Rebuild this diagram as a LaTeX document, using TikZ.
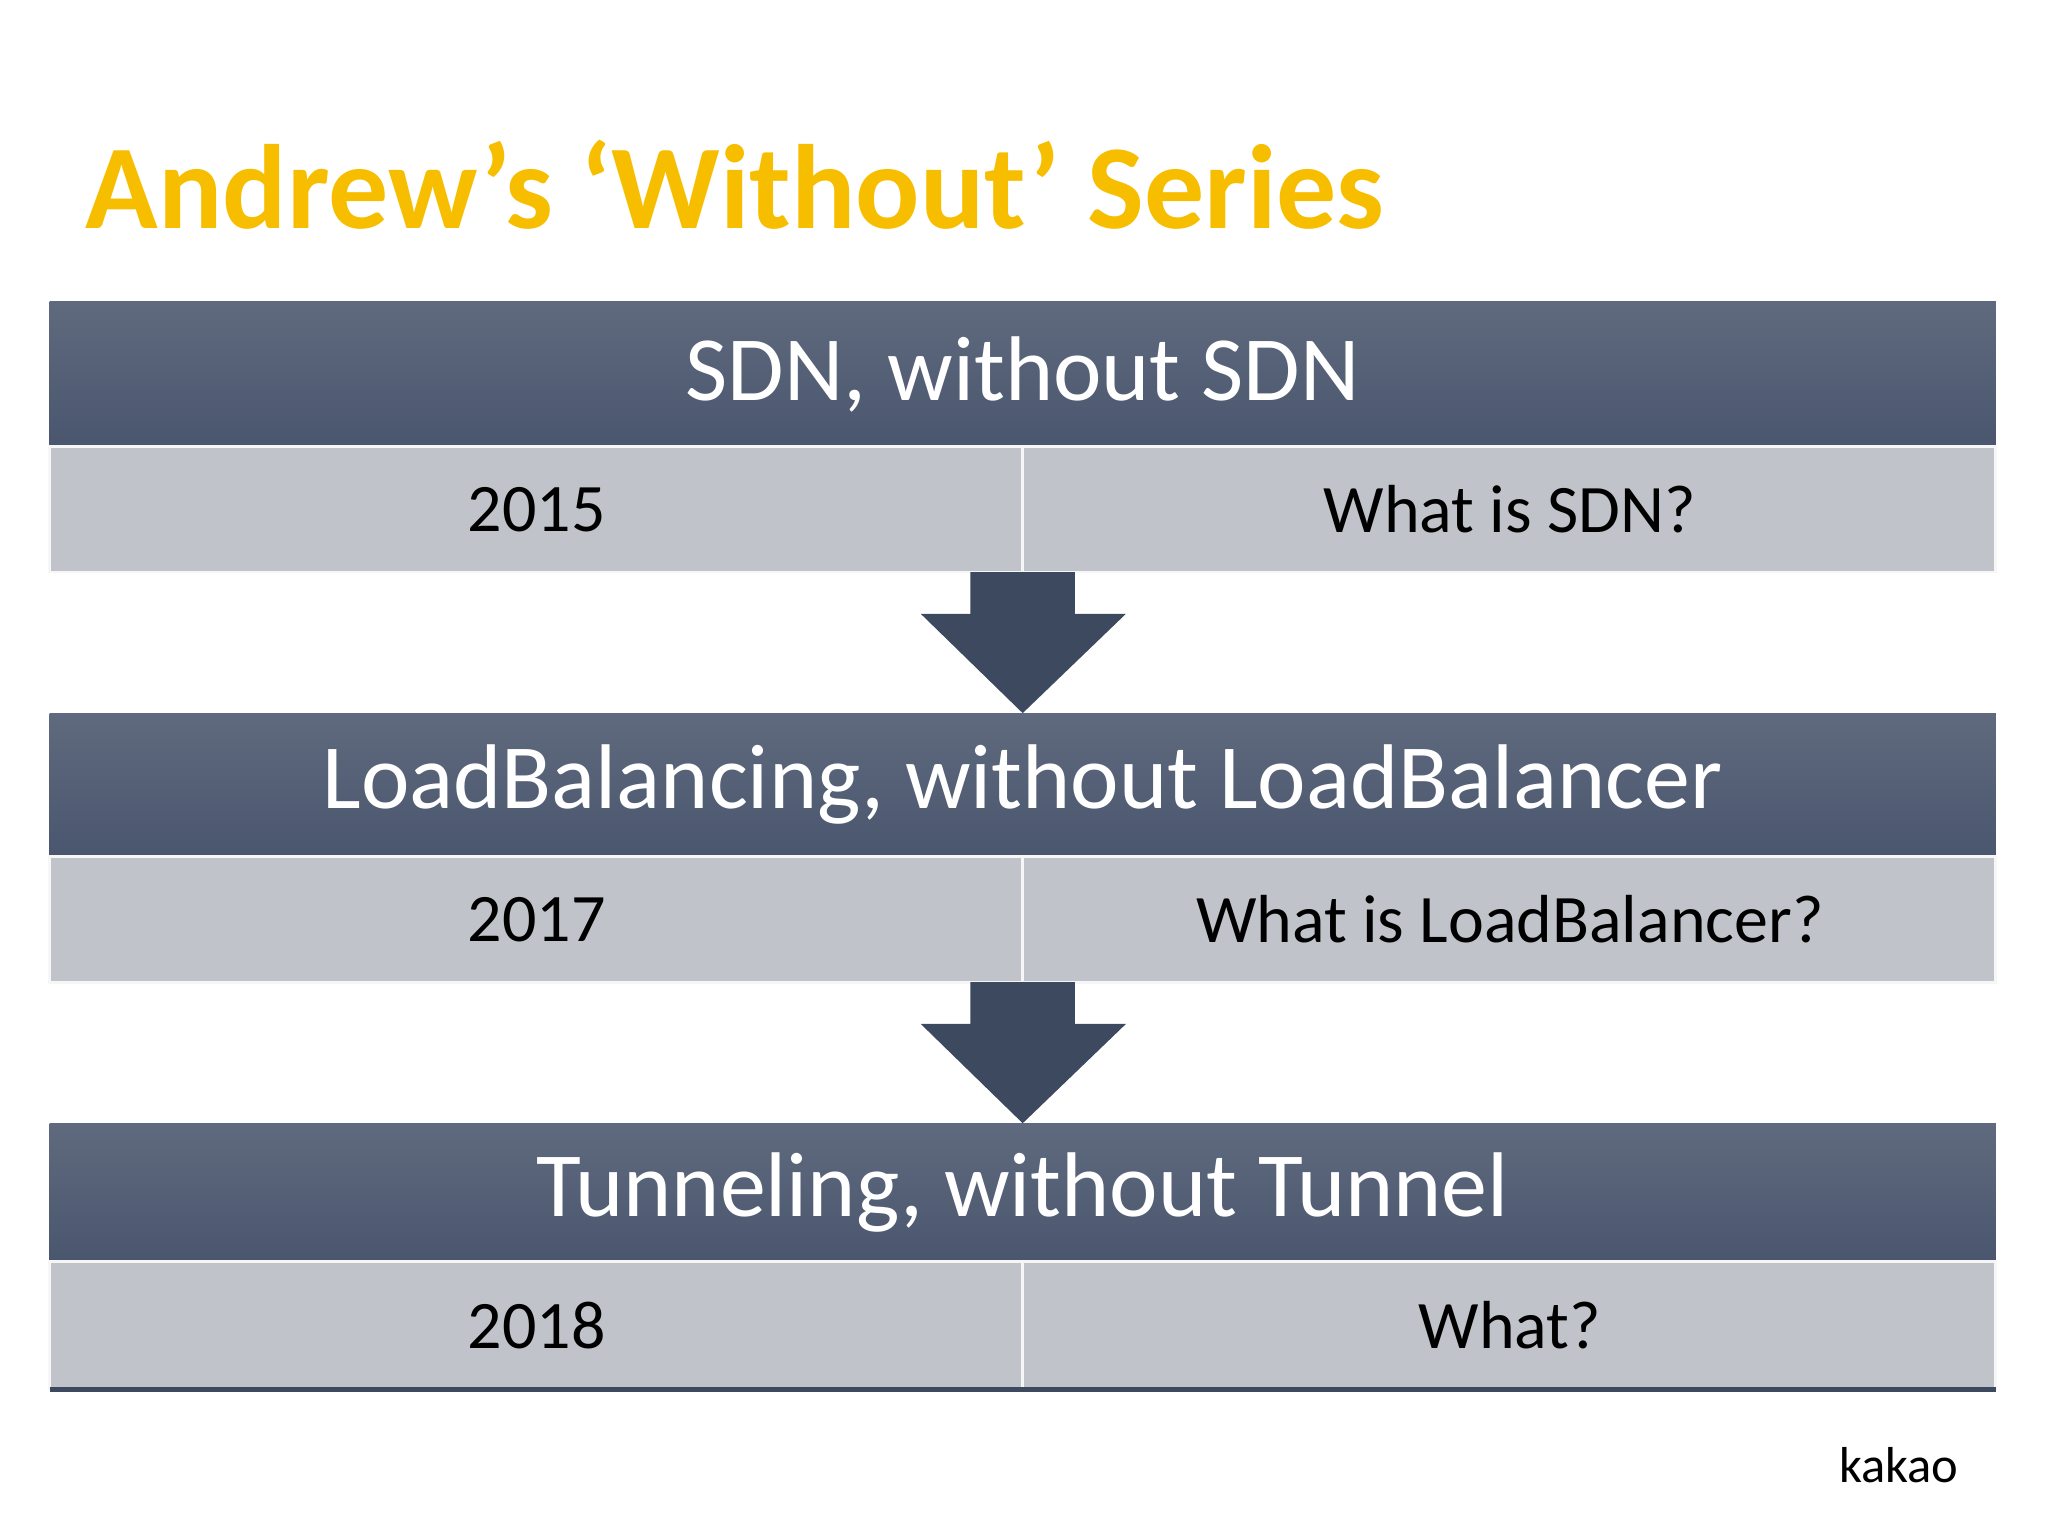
\documentclass[tikz,border=0pt]{standalone}
\usepackage{fontspec}
\setmainfont{Carlito}
\definecolor{ttl}{HTML}{F7BE00}
\definecolor{hdtop}{HTML}{5F6A7E}
\definecolor{hdbot}{HTML}{4A566E}
\definecolor{rowc}{HTML}{C0C3C9}
\definecolor{arr}{HTML}{3C495F}
\begin{document}
\begin{tikzpicture}[x=0.01cm,y=-0.01cm,
  hdr/.style={top color=hdtop,bottom color=hdbot,draw=none},
  rowbox/.style={fill=rowc,draw=white!85!rowc,line width=0.6pt},
  hdtext/.style={text=white,font=\fontsize{20}{24}\selectfont},
  rowtext/.style={text=black,font=\fontsize{14.8}{18}\selectfont},
  arrowshape/.style={fill=arr,draw=none}]
\useasboundingbox (0,0) rectangle (1568,1176);
\fill[white] (0,0) rectangle (1568,1176);
\node[anchor=base west,text=ttl,font=\bfseries\fontsize{26.1}{30}\selectfont,inner sep=0] (title) at (65,175) {Andrew’s ‘Without’ Series};
\foreach \i/\t/\ya/\yb/\yc/\yr/\ca/\cb in {
 1/{SDN, without SDN}/231/342/438/2015/{2015}/{What is SDN?},
 2/{LoadBalancing, without LoadBalancer}/546/656/752/2017/{2017}/{What is LoadBalancer?},
 3/{Tunneling, without Tunnel}/860/966/1063/2018/{2018}/{What?}}{
  \fill[hdr] (38,\ya) rectangle (1528,\yb);
  \node[hdtext] (h\i) at (783,{(\ya+\yb)/2}) {\t};
  \draw[rowbox] (38,\yb) rectangle (783,\yc);
  \draw[rowbox] (783,\yb) rectangle (1528,\yc);
  \node[rowtext] (l\i) at (411,{(\yb+\yc)/2}) {\ca};
  \node[rowtext] (r\i) at (1156,{(\yb+\yc)/2}) {\cb};
}
\draw[arr,line width=1.2pt] (38,1064) -- (1528,1064);
\fill[arrowshape] (743,438) -- (823,438) -- (823,470) -- (862,470) -- (783,546) -- (705,470) -- (743,470) -- cycle;
\fill[arrowshape] (743,752) -- (823,752) -- (823,784) -- (862,784) -- (783,860) -- (705,784) -- (743,784) -- cycle;
\node[anchor=base east,font=\fontsize{11}{13}\selectfont,inner sep=0] (kakao) at (1500,1135) {kakao};
\end{tikzpicture}
\end{document}
